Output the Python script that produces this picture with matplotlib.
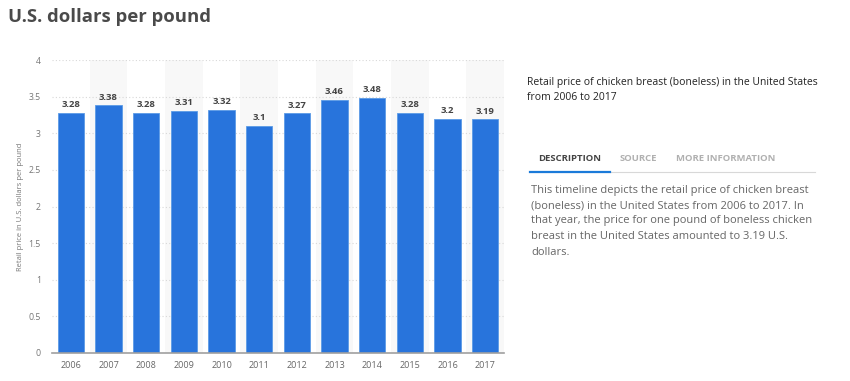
import matplotlib
matplotlib.use("Agg")
import matplotlib.pyplot as plt
from matplotlib.lines import Line2D

years = ["2006", "2007", "2008", "2009", "2010", "2011", "2012", "2013", "2014", "2015", "2016", "2017"]
prices = [3.28, 3.38, 3.28, 3.31, 3.32, 3.1, 3.27, 3.46, 3.48, 3.28, 3.2, 3.19]
yticks = [0, 0.5, 1, 1.5, 2, 2.5, 3, 3.5, 4]
ytick_labels = ["0", "0.5", "1", "1.5", "2", "2.5", "3", "3.5", "4"]

plt.rcParams['font.family'] = ['Open Sans', 'DejaVu Sans']

fig = plt.figure(figsize=(8.5, 3.81), dpi=100)
ax = fig.add_axes([0.0612, 0.0735, 0.5318, 0.769])

x = list(range(len(years)))
for i in x:
    if i % 2 == 1:
        ax.axvspan(i - 0.5, i + 0.5, color="#f8f8f8", zorder=0, lw=0)

ax.set_xlim(-0.5, len(years) - 0.5)
ax.set_ylim(0, 4)
ax.set_yticks(yticks)
ax.set_yticklabels(ytick_labels)
ax.yaxis.grid(True, linestyle=(0, (1, 2)), color="#d8d8d8", linewidth=0.8, zorder=1)
ax.set_axisbelow(True)

bars = ax.bar(x, prices, width=0.7, color="#2874dc", edgecolor="#5b9be6", linewidth=0.6, zorder=2)
for xi, v in zip(x, prices):
    ax.text(xi, v + 0.05, f"{v:g}", ha="center", va="bottom", fontsize=6.8, fontweight="bold", color="#444444", zorder=3)

ax.set_xticks(x)
ax.set_xticklabels(years)
ax.tick_params(axis="x", length=0, labelsize=6.5, colors="#666666", pad=6)
ax.tick_params(axis="y", length=0, labelsize=6.3, colors="#777777", pad=8)
for s in ["top", "right", "left"]:
    ax.spines[s].set_visible(False)
ax.spines["bottom"].set_color("#a0a0a0")
ax.spines["bottom"].set_linewidth(1.2)
ax.set_ylabel("Retail price in U.S. dollars per pound", fontsize=5.5, color="#777777", labelpad=3)

fig.text(8 / 850, 1 - 17 / 381, "U.S. dollars per pound", fontsize=13.3, fontweight="bold", color="#4a4a4a", ha="left", va="center")

fig.text(527 / 850, 1 - 82 / 381, "Retail price of chicken breast (boneless) in the United States", fontsize=7.5, color="#222222", ha="left", va="center")
fig.text(527 / 850, 1 - 97 / 381, "from 2006 to 2017", fontsize=7.5, color="#222222", ha="left", va="center")

fig.text(538 / 850, 1 - 159 / 381, "DESCRIPTION", fontsize=6.8, fontweight="bold", color="#444444", ha="left", va="center")
fig.text(620 / 850, 1 - 159 / 381, "SOURCE", fontsize=6.8, fontweight="bold", color="#b0b0b0", ha="left", va="center")
fig.text(676 / 850, 1 - 159 / 381, "MORE INFORMATION", fontsize=6.8, fontweight="bold", color="#b0b0b0", ha="left", va="center")
fig.add_artist(Line2D([530 / 850, 815 / 850], [1 - 172 / 381] * 2, color="#d8d8d8", lw=0.8, transform=fig.transFigure))
fig.add_artist(Line2D([530 / 850, 610 / 850], [1 - 171.5 / 381] * 2, color="#1a7ad9", lw=1.6, transform=fig.transFigure))

desc = [
    "This timeline depicts the retail price of chicken breast",
    "(boneless) in the United States from 2006 to 2017. In",
    "that year, the price for one pound of boneless chicken",
    "breast in the United States amounted to 3.19 U.S.",
    "dollars.",
]
for k, line in enumerate(desc):
    fig.text(531 / 850, 1 - (190 + k * 15.5) / 381, line, fontsize=8, color="#666666", ha="left", va="center")

fig.savefig("out.png", dpi=100)
